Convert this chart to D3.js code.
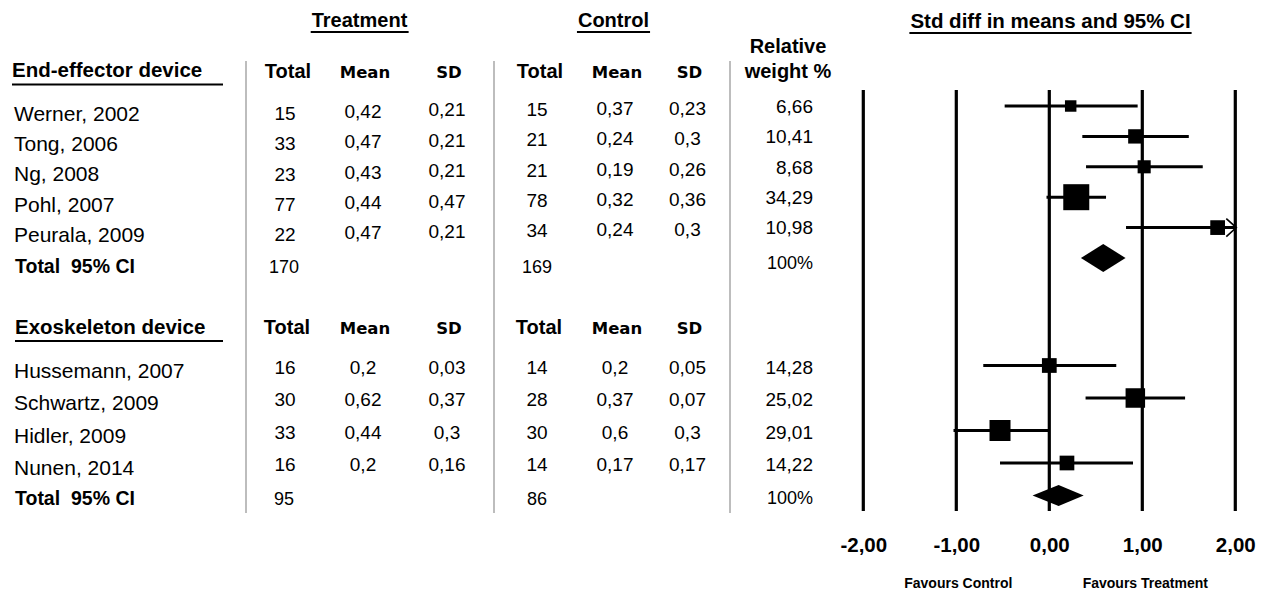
<!DOCTYPE html>
<html>
<head>
<meta charset="utf-8">
<script src="https://cdn.jsdelivr.net/npm/d3@7"></script>
<style>
  html, body { margin: 0; padding: 0; background: #fff; }
  svg { display: block; }
  text { font-family: "Liberation Sans", Arial, sans-serif; fill: #000; }
</style>
</head>
<body>
<script>
// ---- data -----------------------------------------------------------
const groupNames = ["End-effector device", "Exoskeleton device"];
const studies = ["Werner, 2002", "Tong, 2006", "Ng, 2008", "Pohl, 2007", "Peurala, 2009",
                 "Hussemann, 2007", "Schwartz, 2009", "Hidler, 2009", "Nunen, 2014"];
const studyGroup = [0, 0, 0, 0, 0, 1, 1, 1, 1];
const treatN    = [15, 33, 23, 77, 22, 16, 30, 33, 16];
const treatMean = [0.42, 0.47, 0.43, 0.44, 0.47, 0.2, 0.62, 0.44, 0.2];
const treatSD   = [0.21, 0.21, 0.21, 0.47, 0.21, 0.03, 0.37, 0.3, 0.16];
const ctrlN     = [15, 21, 21, 78, 34, 14, 28, 30, 14];
const ctrlMean  = [0.37, 0.24, 0.19, 0.32, 0.24, 0.2, 0.37, 0.6, 0.17];
const ctrlSD    = [0.23, 0.3, 0.26, 0.36, 0.3, 0.05, 0.07, 0.3, 0.17];
const relWeight = [6.66, 10.41, 8.68, 34.29, 10.98, 14.28, 25.02, 29.01, 14.22];
const smd       = [0.23, 0.925, 1.02, 0.29, 1.81, 0.0, 0.925, -0.53, 0.19];
const ciLow     = [-0.48, 0.355, 0.395, -0.03, 0.825, -0.71, 0.39, -1.03, -0.53];
const ciHigh    = [0.95, 1.50, 1.65, 0.61, 2.80, 0.72, 1.46, -0.01, 0.90];

const totalTreatN   = [170, 95];
const totalCtrlN    = [169, 86];
const totalWeight   = [100, 100];
const pooledSmd     = [0.58, 0.10];
const pooledLow     = [0.34, -0.18];
const pooledHigh    = [0.82, 0.37];

const axisTicks = [-2, -1, 0, 1, 2];
const colHeads = ["Total", "Mean", "SD"];
const totalLabel = "Total\u00a0 95% CI";

// ---- layout ---------------------------------------------------------
const W = 1263, H = 592;
const svg = d3.select("body").append("svg").attr("width", W).attr("height", H);
svg.append("rect").attr("width", W).attr("height", H).attr("fill", "#fff");

const comma = v => String(v).replace(".", ",");
const fmt2 = v => d3.format(".2f")(v).replace(".", ",").replace("−", "-");

const x = d3.scaleLinear().domain([-2, 2]).range([863.3, 1235.3]);
const rowY = [
  d3.scaleLinear().domain([0, 5]).range([106, 258]),
  d3.scaleLinear().domain([0, 4]).range([365.5, 495.5])
];
const boxSize = [
  d3.scaleSqrt().domain([0, d3.max(relWeight.filter((_, i) => studyGroup[i] === 0))]).range([0, 26]),
  d3.scaleSqrt().domain([0, d3.max(relWeight.filter((_, i) => studyGroup[i] === 1))]).range([0, 21])
];
const diamondH = [28, 21];

// column centres of the table
const col = { name: 14, tN: 285, tM: 363, tSD: 447, cN: 537, cM: 615, cSD: 687.5, w: 813 };
// small vertical offsets of the table text relative to the plot rows
const shift = [
  { name: 7, tN: 7, tM: 5, tSD: 3.5, cN: 3, cM: 2, cSD: 2, w: 0, tot: 9, totW: 5 },
  { name: 4.5, tN: 1.2, tM: 1.2, tSD: 1.2, cN: 1.5, cM: 1.5, cSD: 1.5, w: 1.2, tot: 3.5, totW: 2.5 }
];
const headBase = [77.5, 334];

// within-group index of every study
const idxInGroup = studies.map((_, i) => studyGroup.slice(0, i).filter(g => g === studyGroup[i]).length);
const yOf = i => rowY[studyGroup[i]](idxInGroup[i]);
const totalRow = g => studyGroup.filter(s => s === g).length;

function txt(xp, yp, s, opt = {}) {
  return svg.append("text")
    .attr("x", xp).attr("y", yp)
    .attr("text-anchor", opt.anchor || "middle")
    .attr("font-size", opt.size || 19)
    .attr("font-weight", opt.bold ? "bold" : "normal")
    .style("font-family", opt.family || null)
    .text(s);
}
const mid = (cy, size) => cy + size * 0.36;

// ---- top headings ---------------------------------------------------
function underlined(cx, base, s, size) {
  const t = txt(cx, base, s, { bold: true, size });
  const bb = t.node().getBBox();
  svg.append("line").attr("x1", bb.x - 1).attr("x2", bb.x + bb.width + 1)
    .attr("y1", base + 5).attr("y2", base + 5)
    .attr("stroke", "#000").attr("stroke-width", 2);
}
underlined(359.5, 27, "Treatment", 20);
underlined(613.5, 27, "Control", 20);
underlined(1050.5, 28, "Std diff in means and 95% CI", 20.5);

// ---- table separators -----------------------------------------------
[246, 494, 730].forEach(sx => {
  svg.append("line").attr("x1", sx).attr("x2", sx).attr("y1", 61).attr("y2", 513)
    .attr("stroke", "#bdbdbd").attr("stroke-width", 2);
});

// ---- group headers ----------------------------------------------------
groupNames.forEach((gName, g) => {
  const base = headBase[g];
  txt(g === 0 ? 12 : 15, base - 0.5, gName, { bold: true, size: 20.5, anchor: "start" });
  svg.append("line").attr("x1", g === 0 ? 12 : 15).attr("x2", 223)
    .attr("y1", base + 7).attr("y2", base + 7)
    .attr("stroke", "#000").attr("stroke-width", 2.2);

  [[col.tN, col.tM, col.tSD], [col.cN, col.cM, col.cSD]].forEach(cs => {
    cs.forEach((cx, k) => {
      if (k === 0) txt(cx + 3 - g * 1, base, colHeads[k], { bold: true, size: 20 });
      else txt(cx + 2, base, colHeads[k], { bold: true, size: 16.5, family: "DejaVu Sans" });
    });
  });
});
txt(788, 53, "Relative", { bold: true, size: 20 });
txt(788, 77.5, "weight %", { bold: true, size: 20 });

// ---- study rows -------------------------------------------------------
studies.forEach((s, i) => {
  const g = studyGroup[i], y = yOf(i), sh = shift[g];
  txt(col.name, mid(y + sh.name, 21), s, { size: 21, anchor: "start" });
  txt(col.tN, mid(y + sh.tN, 19), treatN[i]);
  txt(col.tM, mid(y + sh.tM, 19), comma(treatMean[i]));
  txt(col.tSD, mid(y + sh.tSD, 19), comma(treatSD[i]));
  txt(col.cN, mid(y + sh.cN, 19), ctrlN[i]);
  txt(col.cM, mid(y + sh.cM, 19), comma(ctrlMean[i]));
  txt(col.cSD, mid(y + sh.cSD, 19), comma(ctrlSD[i]));
  txt(col.w, mid(y + sh.w, 19), comma(relWeight[i]), { anchor: "end" });
});

// ---- subgroup totals --------------------------------------------------
groupNames.forEach((_, g) => {
  const y = rowY[g](totalRow(g)), sh = shift[g];
  txt(15, mid(y + sh.tot - 1, 19.5), totalLabel, { bold: true, size: 19.5, anchor: "start" });
  txt(col.tN - 1, mid(y + sh.tot, 18), totalTreatN[g], { size: 18 });
  txt(col.cN, mid(y + sh.tot, 18), totalCtrlN[g], { size: 18 });
  txt(col.w, mid(y + sh.totW, 18), totalWeight[g] + "%", { size: 18, anchor: "end" });
});

// ---- forest plot ------------------------------------------------------
const plot = svg.append("g");
plot.selectAll("line.ref").data(axisTicks).join("line")
  .attr("class", "ref")
  .attr("x1", d => x(d)).attr("x2", d => x(d))
  .attr("y1", 90).attr("y2", 511)
  .attr("stroke", "#000").attr("stroke-width", 3.2);

const [xMin, xMax] = x.domain();
studies.forEach((_, i) => {
  const y = yOf(i), g = studyGroup[i];
  const lo = Math.max(ciLow[i], xMin), hi = Math.min(ciHigh[i], xMax);
  plot.append("line")
    .attr("x1", x(lo)).attr("x2", x(hi)).attr("y1", y).attr("y2", y)
    .attr("stroke", "#000").attr("stroke-width", 3);
  if (ciHigh[i] > xMax) {
    plot.append("path")
      .attr("d", `M${x(xMax) - 9},${y - 9}L${x(xMax) + 1},${y}L${x(xMax) - 9},${y + 9}`)
      .attr("fill", "none").attr("stroke", "#000").attr("stroke-width", 1.6);
  }
  const s = boxSize[g](relWeight[i]);
  plot.append("rect")
    .attr("x", x(smd[i]) - s / 2).attr("y", y - s / 2)
    .attr("width", s).attr("height", s).attr("fill", "#000");
});

groupNames.forEach((_, g) => {
  const y = rowY[g](totalRow(g)), h = diamondH[g] / 2;
  plot.append("path")
    .attr("d", `M${x(pooledLow[g])},${y}L${x(pooledSmd[g])},${y - h}L${x(pooledHigh[g])},${y}L${x(pooledSmd[g])},${y + h}Z`)
    .attr("fill", "#000");
});

// ---- axis ---------------------------------------------------------------
const axis = svg.append("g").attr("transform", "translate(0,534)")
  .call(d3.axisBottom(x).tickValues(axisTicks).tickSize(0).tickFormat(fmt2));
axis.select(".domain").remove();
axis.selectAll("text")
  .attr("font-size", 20.5).attr("font-weight", "bold")
  .style("font-family", '"Liberation Sans", Arial, sans-serif').attr("fill", "#000");

txt(x(-1) + 2, 588, "Favours Control", { bold: true, size: 14 });
txt(x(1) + 3, 588, "Favours Treatment", { bold: true, size: 14 });
</script>
</body>
</html>
